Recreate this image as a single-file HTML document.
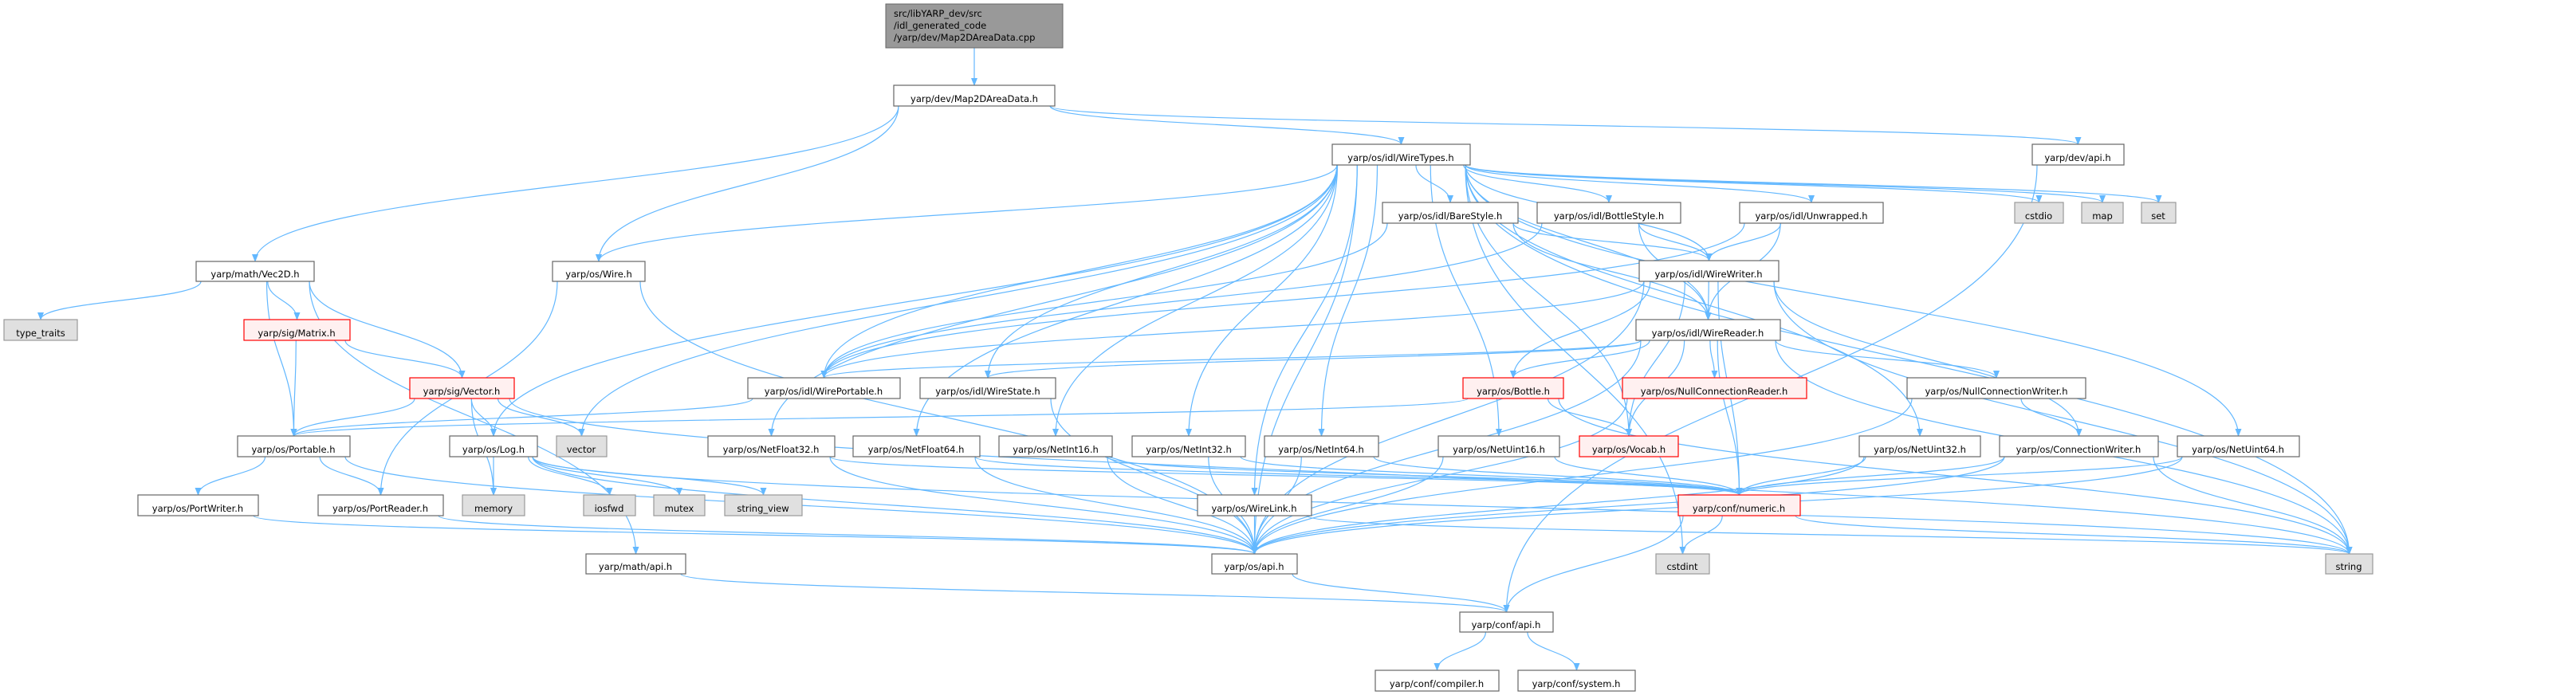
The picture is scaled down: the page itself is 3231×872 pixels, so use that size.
<!DOCTYPE html>
<html><head><meta charset="utf-8"><style>
html,body{margin:0;padding:0;background:#fff;}
svg{display:block}
text{font-family:"DejaVu Sans","Liberation Sans",sans-serif;font-size:11.5px;fill:#000;text-anchor:middle;dominant-baseline:central}
</style></head><body>
<svg id="g" width="3231" height="872" viewBox="0 0 3231 872" xmlns="http://www.w3.org/2000/svg">
<defs><marker id="ar" markerWidth="10" markerHeight="8" refX="9" refY="4" orient="auto" markerUnits="userSpaceOnUse"><path d="M0,0 L10,4 L0,8 z" fill="#63b8ff"/></marker></defs>
<g id="edges" fill="none" stroke="#63b8ff" stroke-width="1.2"></g>
<g id="nodes"></g>
<g>
<rect x="1111" y="5" width="222" height="55" fill="#999" stroke="#666"/>
<text x="1121" y="17" style="text-anchor:start">src/libYARP_dev/src</text>
<text x="1121" y="32" style="text-anchor:start">/idl_generated_code</text>
<text x="1121" y="47" style="text-anchor:start">/yarp/dev/Map2DAreaData.cpp</text>
</g>
</svg>
<script>
var N={
main:[1111,5,1333,60,'m',''],
map2d:[1121,107,1323,133,'w'],
wiretypes:[1671,181,1844,207,'w'],
devapi:[2549,181,2664,207,'w'],
bare:[1734,254,1904,280,'w'],
bottlest:[1928,254,2108,280,'w'],
unwr:[2182,254,2362,280,'w'],
cstdio:[2527,254,2588,280,'g'],
map:[2611,254,2663,280,'g'],
set:[2686,254,2729,280,'g'],
vec2d:[246,328,394,353,'w'],
wire:[693,328,809,353,'w'],
ww:[2056,327,2231,353,'w'],
typet:[5,401,97,427,'g'],
matrix:[306,401,439,427,'r'],
wr:[2052,401,2233,427,'w'],
vector:[514,474,645,500,'r'],
wp:[938,474,1129,500,'w'],
ws:[1154,474,1324,500,'w'],
bottle:[1835,474,1961,500,'r'],
ncr:[2035,474,2266,500,'r'],
ncw:[2392,474,2616,500,'w'],
portable:[298,547,439,573,'w'],
log:[564,547,674,573,'w'],
vec:[698,547,761,573,'g'],
nf32:[888,547,1047,573,'w'],
nf64:[1070,547,1229,573,'w'],
ni16:[1253,547,1395,573,'w'],
ni32:[1420,547,1562,573,'w'],
ni64:[1586,547,1729,573,'w'],
nu16:[1804,547,1956,573,'w'],
vocab:[1981,547,2105,573,'r'],
nu32:[2332,547,2484,573,'w'],
cw:[2508,547,2707,573,'w'],
nu64:[2731,547,2884,573,'w'],
pw:[173,621,324,647,'w'],
pr:[399,621,556,647,'w'],
memory:[580,621,658,647,'g'],
iosfwd:[732,621,797,647,'g'],
mutex:[820,621,884,647,'g'],
sv:[909,621,1006,647,'g'],
wl:[1502,621,1645,647,'w'],
numeric:[2105,621,2258,647,'r'],
mathapi:[735,695,860,720,'w'],
osapi:[1520,695,1627,720,'w'],
cstdint:[2077,695,2144,720,'g'],
string:[2917,695,2976,720,'g'],
confapi:[1831,768,1948,793,'w'],
comp:[1725,841,1880,867,'w'],
sys:[1904,841,2051,867,'w']
};
var E=[
['main','map2d'],['map2d','vec2d'],['map2d','wire'],['map2d','wiretypes'],['map2d','devapi'],
['devapi','confapi'],
['wiretypes','wire'],['wiretypes','wp'],['wiretypes','ws'],['wiretypes','log'],['wiretypes','vec'],
['wiretypes','nf32'],['wiretypes','nf64'],['wiretypes','ni16'],['wiretypes','ni32'],['wiretypes','ni64'],
['wiretypes','nu16'],['wiretypes','nu32'],['wiretypes','nu64'],['wiretypes','vocab'],['wiretypes','bare'],
['wiretypes','bottlest'],['wiretypes','unwr'],['wiretypes','ww'],['wiretypes','wr'],['wiretypes','cstdio'],
['wiretypes','map'],['wiretypes','set'],['wiretypes','string'],['wiretypes','cstdint'],['wiretypes','osapi'],
['vec2d','typet'],['vec2d','matrix'],['vec2d','vector'],['vec2d','portable'],['vec2d','mathapi'],
['matrix','vector'],['matrix','portable'],
['vector','portable'],['vector','log'],['vector','vec'],['vector','memory'],['vector','string'],
['wire','pr'],['wire','osapi'],
['portable','pw'],['portable','pr'],['portable','osapi'],['pw','osapi'],['pr','osapi'],
['log','memory'],['log','iosfwd'],['log','mutex'],['log','sv'],['log','osapi'],['log','string'],
['mathapi','confapi'],
['bare','wp'],['bare','ww'],['bare','wr'],['bottlest','wp'],['bottlest','ww'],['bottlest','wr'],
['unwr','wp'],['unwr','ww'],['unwr','wr'],
['ww','wr'],['ww','wp'],['ww','bottle'],['ww','vocab'],['ww','numeric'],['ww','osapi'],['ww','cw'],['ww','string'],
['wr','wp'],['wr','ws'],['wr','bottle'],['wr','ncr'],['wr','ncw'],['wr','vocab'],['wr','numeric'],['wr','osapi'],['wr','string'],
['wp','portable'],['ws','osapi'],
['bottle','portable'],['bottle','vocab'],['bottle','string'],
['ncr','osapi'],['ncw','cw'],['ncw','osapi'],
['nf32','numeric'],['nf32','osapi'],['nf64','numeric'],['nf64','osapi'],['ni16','numeric'],['ni16','osapi'],
['ni32','numeric'],['ni32','osapi'],['ni64','numeric'],['ni64','osapi'],['nu16','numeric'],['nu16','osapi'],
['nu32','numeric'],['nu32','osapi'],['nu64','numeric'],['nu64','osapi'],
['cw','numeric'],['cw','osapi'],['cw','string'],
['numeric','cstdint'],['numeric','confapi'],['numeric','string'],
['osapi','confapi'],['wl','osapi'],['wl','string'],['wiretypes','wl'],
['confapi','comp'],['confapi','sys']
];
var ns='http://www.w3.org/2000/svg',eg=document.getElementById('edges');
E.forEach(function(e){
 var a=N[e[0]],b=N[e[1]];
 var sx=(a[0]+a[2])/2,sy=a[3],tx=(b[0]+b[2])/2,ty=b[1];
 var d;
 if(b[1]>a[3]){
  var hw=(a[2]-a[0])/2-6;var off=(tx-sx)*0.3;off=Math.max(-hw,Math.min(hw,off));sx+=off;
  var dy=(ty-sy)*0.5;
  d='M'+sx+','+sy+' C'+sx+','+(sy+dy)+' '+tx+','+(ty-dy)+' '+tx+','+ty;
 } else {
  sy=(a[1]+a[3])/2;ty=(b[1]+b[3])/2;
  if(tx>sx){sx=a[2];tx=b[0];}else{sx=a[0];tx=b[2];}
  var dx=(tx-sx)*0.4;
  d='M'+sx+','+sy+' C'+(sx+dx)+','+sy+' '+(tx-dx)+','+ty+' '+tx+','+ty;
 }
 var p=document.createElementNS(ns,'path');p.setAttribute('d',d);p.setAttribute('marker-end','url(#ar)');eg.appendChild(p);
});
var ng=document.getElementById('nodes');
for(var k in N){var n=N[k];if(n[4]=='m')continue;
 var r=document.createElementNS(ns,'rect');r.setAttribute('x',n[0]);r.setAttribute('y',n[1]);r.setAttribute('width',n[2]-n[0]);r.setAttribute('height',n[3]-n[1]);
 var f={w:'#fff',g:'#e0e0e0',r:'#fff0f0'}[n[4]],s={w:'#666',g:'#999',r:'#f00'}[n[4]];
 r.setAttribute('fill',f);r.setAttribute('stroke',s);r.setAttribute('stroke-width','1.2');ng.appendChild(r);}
</script>
<div style="position:absolute;left:0;top:0;width:3231px;height:872px;pointer-events:none">
<svg width="3231" height="872" viewBox="0 0 3231 872">
<g style="font-family:'DejaVu Sans','Liberation Sans',sans-serif;font-size:11.5px;text-anchor:middle" fill="#000">
<text x="1222" y="124">yarp/dev/Map2DAreaData.h</text>
<text x="1757" y="198">yarp/os/idl/WireTypes.h</text>
<text x="2606" y="198">yarp/dev/api.h</text>
<text x="1819" y="271">yarp/os/idl/BareStyle.h</text>
<text x="2018" y="271">yarp/os/idl/BottleStyle.h</text>
<text x="2272" y="271">yarp/os/idl/Unwrapped.h</text>
<text x="2557" y="271">cstdio</text>
<text x="2637" y="271">map</text>
<text x="2707" y="271">set</text>
<text x="320" y="344">yarp/math/Vec2D.h</text>
<text x="751" y="344">yarp/os/Wire.h</text>
<text x="2143" y="344">yarp/os/idl/WireWriter.h</text>
<text x="51" y="418">type_traits</text>
<text x="372" y="418">yarp/sig/Matrix.h</text>
<text x="2142" y="418">yarp/os/idl/WireReader.h</text>
<text x="579" y="491">yarp/sig/Vector.h</text>
<text x="1033" y="491">yarp/os/idl/WirePortable.h</text>
<text x="1239" y="491">yarp/os/idl/WireState.h</text>
<text x="1898" y="491">yarp/os/Bottle.h</text>
<text x="2150" y="491">yarp/os/NullConnectionReader.h</text>
<text x="2504" y="491">yarp/os/NullConnectionWriter.h</text>
<text x="368" y="564">yarp/os/Portable.h</text>
<text x="619" y="564">yarp/os/Log.h</text>
<text x="729" y="564">vector</text>
<text x="967" y="564">yarp/os/NetFloat32.h</text>
<text x="1149" y="564">yarp/os/NetFloat64.h</text>
<text x="1324" y="564">yarp/os/NetInt16.h</text>
<text x="1491" y="564">yarp/os/NetInt32.h</text>
<text x="1657" y="564">yarp/os/NetInt64.h</text>
<text x="1880" y="564">yarp/os/NetUint16.h</text>
<text x="2043" y="564">yarp/os/Vocab.h</text>
<text x="2408" y="564">yarp/os/NetUint32.h</text>
<text x="2607" y="564">yarp/os/ConnectionWriter.h</text>
<text x="2807" y="564">yarp/os/NetUint64.h</text>
<text x="248" y="638">yarp/os/PortWriter.h</text>
<text x="477" y="638">yarp/os/PortReader.h</text>
<text x="619" y="638">memory</text>
<text x="764" y="638">iosfwd</text>
<text x="852" y="638">mutex</text>
<text x="957" y="638">string_view</text>
<text x="1573" y="638">yarp/os/WireLink.h</text>
<text x="2181" y="638">yarp/conf/numeric.h</text>
<text x="797" y="711">yarp/math/api.h</text>
<text x="1573" y="711">yarp/os/api.h</text>
<text x="2110" y="711">cstdint</text>
<text x="2946" y="711">string</text>
<text x="1889" y="784">yarp/conf/api.h</text>
<text x="1802" y="858">yarp/conf/compiler.h</text>
<text x="1977" y="858">yarp/conf/system.h</text>
</g></svg></div>
</body></html>
